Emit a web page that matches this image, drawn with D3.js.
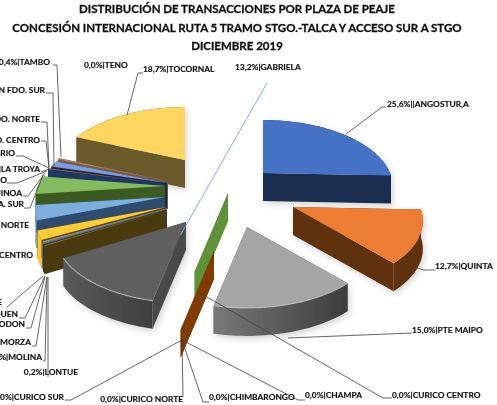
<!DOCTYPE html>
<html>
<head>
<meta charset="utf-8">
<script src="https://cdnjs.cloudflare.com/ajax/libs/d3/7.8.5/d3.min.js"></script>
<style>
  html, body { margin: 0; padding: 0; background: #fff; overflow: hidden; }
  text { font-family: Lato, "Open Sans", sans-serif; font-weight: 700; fill: #111; stroke: #111; stroke-width: 0.15px; }
</style>
</head>
<body>
<svg id="chart" width="497" height="405"></svg>
<script>
const titleLines = [
    "DISTRIBUCIÓN DE TRANSACCIONES POR PLAZA DE PEAJE",
    "CONCESIÓN INTERNACIONAL RUTA 5 TRAMO STGO.-TALCA Y ACCESO SUR A STGO",
    "DICIEMBRE 2019"
]

// toll plazas, clockwise from 12 o'clock. names cut off in the picture are best guesses
const plazas = ["|ANGOSTUR,A", "QUINTA", "PTE MAIPO", "CURICO CENTRO", "CHAMPA", "CHIMBARONGO", "CURICO NORTE", "CURICO SUR",
    "GABRIELA", "LONTUE", "MOLINA", "MORZA", "RODON", "POCOQUEN", "CHADE", "PTA. CENTRO", "PTA. NORTE", "PTA. SUR", "REQUINOA",
    "SANTIAGO", "LA TROYA", "ROSARIO", "SAN FDO. CENTRO", "SAN FDO. NORTE", "SAN FDO. SUR", "TAMBO", "TENO", "TOCORNAL"]
const shares = [25.6, 12.7, 15.0, 0, 0, 0, 0, 0,
    13.2, 0.2, 0.1, 0.1, 0.1, 0.1, 0.1, 2.2, 3.6, 4.4, 1.2,
    0.3, 0, 0.2, 0.1, 0.1, 1.5, 0.4, 0, 18.7]

const topColors = ["#4472C4", "#ED7D31", "#A5A5A5", "#FFC000", "#5B9BD5", "#5F9138", "#264478", "#7F3A05",
    "#5E5E5E", "#997300", "#264478", "#43682B", "#698ED0", "#F1975A", "#B7B7B7", "#FFCD33", "#7CAFDD", "#84BB5E", "#335AA1",
    "#D26012", "#848484", "#D9620F", "#5B9BD5", "#5B9BD5", "#7F9BDB", "#B5835F", "#FFD45F", "#FFD65F"]
const wallColors = ["#1B2D4F", "#5E3011", "#555555", "#665000", "#2E4E6E", "#5F9138", "#1A2E50", "#7F3A05",
    "#4A4A4A", "#4A3B08", "#1A2E50", "#2C4520", "#1F3864", "#7A4A2A", "#777777", "#5A4508", "#2E4E6E", "#3C5A24", "#1F3864",
    "#1F3864", "#444444", "#1F3864", "#1F3864", "#1F3864", "#15294D", "#7A5A42", "#6B5A2A", "#6B5A2A"]

// apex of each exploded slice on the page, null where the slice is never seen
const apexes = [[263, 173], [293, 207], [247, 227], null, null, [228, 193], null, [214, 251],
    [186, 222], [167, 210], null, null, [167, 209.5], null, [167, 208.5], [166, 207], [165, 197], [165, 186], null,
    null, null, [165, 184], null, null, [167, 183], [168, 181], null, [185, 160]]

// label anchor [x, baseline, anchor] and leader line, in page pixels
const labelSpots = {
    "|ANGOSTUR,A": [387, 107, "start", [[386, 107], [382, 107], [346, 134]]],
    "QUINTA": [435, 269, "start", [[435, 270], [423, 270], [415, 267]]],
    "PTE MAIPO": [412, 333, "start", [[412, 333], [288, 338]]],
    "CURICO CENTRO": [392, 398, "start", [[392, 398], [383, 398], [200, 293]]],
    "CHAMPA": [305, 398, "start", [[305, 400], [298, 400], [182, 340]]],
    "CHIMBARONGO": [209, 400, "start", [[209, 402], [203, 402], [182, 340]]],
    "CURICO NORTE": [183, 402, "end", [[183, 397], [182, 340]]],
    "CURICO SUR": [64, 400, "end", [[65, 400], [71, 400], [182, 340]]],
    "GABRIELA": [235, 70, "start", []],
    "LONTUE": [78, 375, "end", [[48, 377], [48, 277]]],
    "MOLINA": [42, 360, "end", [[43, 361], [45, 361], [47, 277]]],
    "MORZA": [31, 345, "end", [[32, 346], [36, 346], [47, 277]]],
    "RODON": [25, 327, "end", [[26, 328], [31, 328], [45, 277]]],
    "POCOQUEN": [18, 317, "end", [[19, 318], [25, 318], [45, 276]]],
    "CHADE": [2, 305, "end", [[7, 307], [43, 276]]],
    "PTA. CENTRO": [33, 258, "end", []],
    "PTA. NORTE": [29, 228, "end", []],
    "PTA. SUR": [24, 207, "end", [[24, 208], [30, 208], [43, 175]]],
    "REQUINOA": [22, 196, "end", [[23, 196], [28, 196], [45, 173]]],
    "SANTIAGO": [7, 183, "end", [[7, 183], [17, 183], [47, 171]]],
    "LA TROYA": [40, 172, "end", [[41, 172], [49, 169]]],
    "ROSARIO": [15, 156, "end", [[16, 156], [23, 156], [49, 168]]],
    "SAN FDO. CENTRO": [40, 143, "end", [[41, 141], [46, 141], [49, 168]]],
    "SAN FDO. NORTE": [40, 122, "end", [[41, 122], [47, 122], [49, 167]]],
    "SAN FDO. SUR": [45, 93, "end", [[46, 93], [53, 93], [54, 166]]],
    "TAMBO": [50, 65, "end", [[53, 65], [57, 65], [61, 157]]],
    "TENO": [84, 68, "start", []],
    "TOCORNAL": [143, 72, "start", [[143, 73], [138, 73], [127, 115]]]
}

const svg = d3.select("#chart")
const defs = svg.append("defs")

const soft = defs.append("filter").attr("id", "soft")
soft.append("feGaussianBlur").attr("stdDeviation", 0.35)

const shadow = defs.append("filter").attr("id", "shadow")
    .attr("x", "-20%").attr("y", "-20%").attr("width", "140%").attr("height", "140%")
shadow.append("feDropShadow").attr("dx", 2).attr("dy", 3).attr("stdDeviation", 3)
    .attr("flood-color", "#000").attr("flood-opacity", 0.16)

function wallGradient(id, left, right) {
    const g = defs.append("linearGradient").attr("id", id)
    g.append("stop").attr("offset", "0%").attr("stop-color", left)
    g.append("stop").attr("offset", "100%").attr("stop-color", right)
}
wallGradient("wall-maipo", "#787878", "#3C3C3C")
wallGradient("wall-gabriela", "#5A5A5A", "#3E3E3E")
const arcFill = {
    "PTE MAIPO": "url(#wall-maipo)",
    "GABRIELA": "url(#wall-gabriela)",
    "PTA. CENTRO": "#FFC72C",
    "PTA. NORTE": "#6CA6DC"
}

// PROJECTION -----------------------------------------------------------
// tilted pie seen in perspective: the near side of the disc reads bigger than the far side
const depth = 28
const perspective = 0.209
const xRadius = d3.scaleLinear().domain([-1, 1]).range([-127, 127])
const yRadius = d3.scaleLinear().domain([-1, 1]).range([64, -64])

function project(apex, angle, r) {
    const across = Math.sin(angle) * r
    const away = Math.cos(angle) * r
    const w = 1 + perspective * away
    return [apex[0] + xRadius(across) / w, apex[1] + yRadius(away) / w]
}

const line = d3.line()
const drop = p => [p[0], p[1] + depth]

const pieData = d3.pie().sort(null).value(d => d)(shares)

const slices = pieData.map((d, i) => {
    const steps = Math.max(1, Math.ceil((d.endAngle - d.startAngle) / 0.03))
    return {
        name: plazas[i],
        share: shares[i],
        apex: apexes[i],
        top: topColors[i],
        wall: wallColors[i],
        angles: d3.range(steps + 1).map(k => d.startAngle + (d.endAngle - d.startAngle) * k / steps)
    }
}).filter(d => d.apex)

slices.sort((a, b) => a.apex[1] - b.apex[1])

// SLICES -----------------------------------------------------------
const pieGroup = svg.append("g").attr("filter", "url(#soft)")

slices.forEach(s => {
    const rim = s.angles.map(a => project(s.apex, a, 1))
    const g = pieGroup.append("g").attr("class", "slice")
    if (s.share > 5) g.attr("filter", "url(#shadow)")

    const first = rim[0]
    const last = rim[rim.length - 1]
    const radialWall = p => [s.apex, p, drop(p), drop(s.apex)]

    g.append("path").attr("d", line(radialWall(first)) + "Z").attr("fill", s.wall)
    g.append("path").attr("d", line(radialWall(last)) + "Z").attr("fill", s.wall)

    if (s.share > 0) {
        const arcWall = rim.concat(rim.map(drop).reverse())
        g.append("path").attr("d", line(arcWall) + "Z").attr("fill", arcFill[s.name] || s.wall)
        g.append("path").attr("d", line([s.apex].concat(rim)) + "Z").attr("fill", s.top)
        if (s.name === "PTE MAIPO" || s.name === "GABRIELA") {
            // the grey slices have a pale bevel along the rim
            g.append("path").attr("d", line(rim)).attr("fill", "none")
                .attr("stroke", "#c8c8c8").attr("stroke-width", 1.2).attr("opacity", 0.7)
        }
    }
})

// LEADERS AND LABELS -----------------------------------------------------------
const labelGroup = svg.append("g").attr("filter", "url(#soft)")

const percent = v => d3.format(".1f")(v).replace(".", ",") + "%"

plazas.forEach((name, i) => {
    const spot = labelSpots[name]
    if (spot[3].length) {
        labelGroup.append("path").attr("d", line(spot[3])).attr("fill", "none")
            .attr("stroke", "#404040").attr("stroke-width", 0.8)
    }
    labelGroup.append("text")
        .attr("x", spot[0]).attr("y", spot[1])
        .attr("text-anchor", spot[2])
        .attr("font-size", 8.4)
        .text(percent(shares[i]) + "|" + name)
})

// the Gabriela leader runs pale blue from the grey slice up to its label
const gabriela = slices.find(d => d.name === "GABRIELA")
labelGroup.append("path")
    .attr("d", line([project(gabriela.apex, gabriela.angles[0], 0.2), [267, 83]]))
    .attr("fill", "none").attr("stroke", "#8FAADC").attr("stroke-width", 1)

// TITLE -----------------------------------------------------------
const titleY = d3.scalePoint().domain(titleLines).range([13, 50])
labelGroup.selectAll(".title").data(titleLines).join("text")
    .attr("class", "title")
    .attr("x", 237).attr("y", d => titleY(d))
    .attr("text-anchor", "middle")
    .attr("font-size", 11.5)
    .style("stroke-width", "0.3px")
    .text(d => d)
</script>
</body>
</html>
